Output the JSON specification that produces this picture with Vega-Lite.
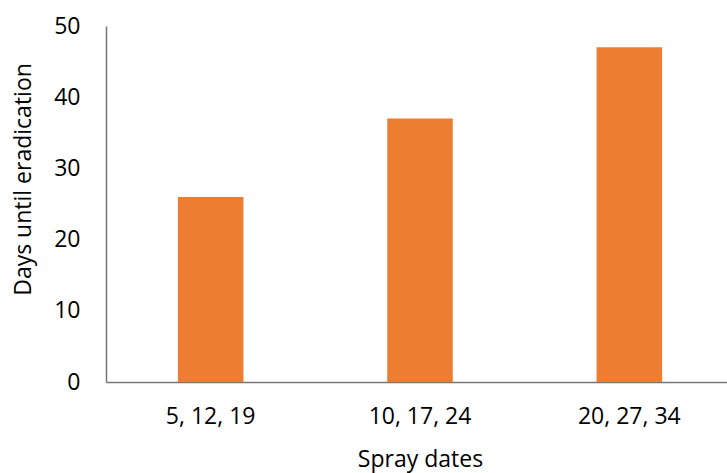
{
  "$schema": "https://vega.github.io/schema/vega-lite/v6.json",
  "autosize": {"type": "none"},
  "padding": {"left": 106, "top": 26, "right": 0, "bottom": 91},
  "width": 628,
  "height": 356,
  "background": "white",
  "data": {"values": [
    {"dates": "5, 12, 19", "days": 26},
    {"dates": "10, 17, 24", "days": 37},
    {"dates": "20, 27, 34", "days": 47}
  ]},
  "mark": {"type": "bar", "color": "#ED7D31"},
  "encoding": {
    "x": {
      "field": "dates", "type": "nominal", "sort": null,
      "scale": {"paddingInner": 0.687, "paddingOuter": 0.3435},
      "axis": {
        "title": "Spray dates", "labelAngle": 0, "ticks": false,
        "labelPadding": 23, "titlePadding": 20,
        "labelFont": "Open Sans", "titleFont": "Open Sans",
        "labelFontSize": 23, "titleFontSize": 23, "titleFontWeight": "normal",
        "labelColor": "#000", "titleColor": "#000",
        "domainColor": "#767676", "domainWidth": 1.5
      }
    },
    "y": {
      "field": "days", "type": "quantitative",
      "scale": {"domain": [0, 50]},
      "axis": {
        "title": "Days until eradication", "values": [0, 10, 20, 30, 40, 50],
        "ticks": false, "grid": false, "labelPadding": 26, "titlePadding": 18,
        "titleY": 153,
        "labelFont": "Open Sans", "titleFont": "Open Sans",
        "labelFontSize": 23, "titleFontSize": 23, "titleFontWeight": "normal",
        "labelColor": "#000", "titleColor": "#000",
        "domainColor": "#767676", "domainWidth": 1.5
      }
    }
  },
  "config": {"view": {"stroke": null}}
}
